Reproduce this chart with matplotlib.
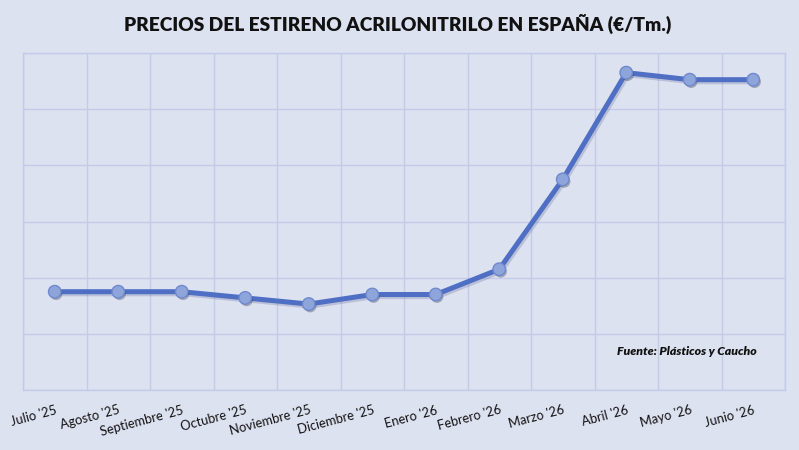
import matplotlib
matplotlib.use("Agg")
import matplotlib.pyplot as plt
import matplotlib.patheffects as pe

months = ["Julio '25", "Agosto '25", "Septiembre '25", "Octubre '25", "Noviembre '25",
          "Diciembre '25", "Enero '26", "Febrero '26", "Marzo '26", "Abril '26",
          "Mayo '26", "Junio '26"]
prices = [1750, 1750, 1750, 1728, 1706, 1740, 1740, 1830, 2150, 2530, 2505, 2505]
y_min, y_max, y_step = 1400, 2600, 200
title = "PRECIOS DEL ESTIRENO ACRILONITRILO EN ESPAÑA (€/Tm.)"
source = "Fuente: Plásticos y Caucho"

bg = "#dde2f1"
grid_c = "#c3cbe7"
line_c = "#4f6fc4"

fig = plt.figure(figsize=(7.99, 4.5), dpi=100, facecolor=bg)
ax = fig.add_axes([23/799, 60/450, 762/799, 337/450])
ax.set_facecolor(bg)

x = list(range(len(months)))
ax.plot(x, prices, color=line_c, lw=3.6, zorder=3, solid_capstyle="round",
        path_effects=[pe.SimpleLineShadow(offset=(1.2, -1.5), shadow_color="#7a83a8", alpha=0.35),
                      pe.Normal()])
ax.plot(x, prices, ls="none", marker="o", ms=9, mfc="#8ea5dc", mec="#7088cc", mew=1.0,
        zorder=4, path_effects=[pe.SimplePatchShadow(offset=(1, -1.5), alpha=0.35), pe.Normal()])

ax.set_xlim(-0.5, len(months) - 0.5)
ax.set_ylim(y_min, y_max)
ax.set_xticks([i - 0.5 for i in range(len(months) + 1)], minor=False)
ax.set_xticklabels([])
ax.set_xticks(x, minor=True)
ax.set_xticklabels(months, minor=True, rotation=15, ha="right", va="top",
                   rotation_mode="anchor", fontsize=9.3, family="Lato", color="#111111")
ax.set_yticks(range(y_min, y_max + 1, y_step))
ax.set_yticklabels([])
ax.tick_params(axis="both", which="both", length=0)
ax.tick_params(axis="x", which="minor", pad=10)
ax.grid(True, which="major", color=grid_c, lw=1.0)
for s in ax.spines.values():
    s.set_color(grid_c)
    s.set_linewidth(1.0)

fig.text(398/799, 1 - 24/450, title, ha="center", va="center", fontsize=13.8,
         fontweight="heavy", family="Lato", color="#111111")
ax.text(0.963, 0.114, source, transform=ax.transAxes, ha="right", va="center",
        fontsize=8.8, fontweight="heavy", fontstyle="italic", family="Lato", color="#111111")

fig.savefig("out.png", dpi=100, facecolor=bg)
